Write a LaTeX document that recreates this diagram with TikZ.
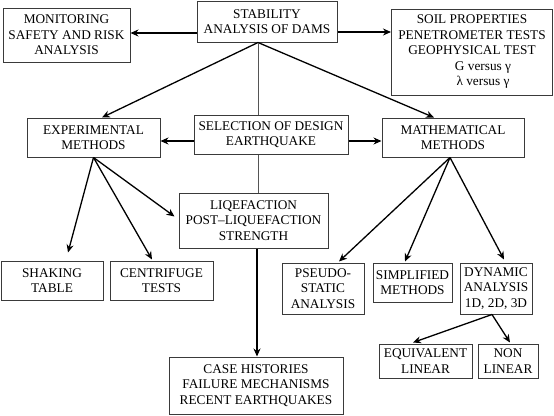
\documentclass[tikz,border=0pt]{standalone}
\usepackage{fontspec}
\setmainfont{Liberation Serif}
\newfontfamily\timesfont{Liberation Serif}
\usetikzlibrary{arrows.meta}
\definecolor{boxline}{HTML}{3A3A3A}
\definecolor{plainline}{HTML}{555555}
\tikzset{
  box/.style={draw=boxline, line width=1pt, align=center, inner sep=0pt,
    font=\timesfont\fontsize{13.3}{15.5}\selectfont},
  arr/.style={draw=black, line width=1.3pt, -{Stealth[length=8pt,width=7pt]}},
  plain/.style={draw=plainline, line width=1pt},
}
\begin{document}
\begin{tikzpicture}[x=1pt,y=-1pt]
\useasboundingbox (0,0) rectangle (554,415);
\node[box, minimum width=140pt, minimum height=41pt] (stab) at (267,21.5) {STABILITY\\ANALYSIS OF DAMS};
\node[box, minimum width=127pt, minimum height=54pt] (mon) at (66.5,35) {MONITORING\\SAFETY AND RISK\\ANALYSIS};
\node[box, minimum width=161pt, minimum height=86pt] (soil) at (472,52) {SOIL PROPERTIES\\PENETROMETER TESTS\\GEOPHYSICAL TEST\\\hspace*{22pt}G versus γ\\\hspace*{22pt}λ versus γ};
\node[box, minimum width=133pt, minimum height=39pt] (exp) at (93.5,137.5) {EXPERIMENTAL\\METHODS};
\node[box, minimum width=154pt, minimum height=39pt] (sel) at (271,134.5) {SELECTION OF DESIGN\\EARTHQUAKE};
\node[box, minimum width=142pt, minimum height=39pt] (math) at (453,137.5) {MATHEMATICAL\\METHODS};
\node[box, minimum width=149pt, minimum height=55pt] (liq) at (253.5,220.5) {LIQEFACTION\\POST–LIQUEFACTION\\STRENGTH};
\node[box, minimum width=102pt, minimum height=39pt] (shake) at (52,280.5) {SHAKING\\TABLE};
\node[box, minimum width=103pt, minimum height=39pt] (cent) at (161.5,280.5) {CENTRIFUGE\\TESTS};
\node[box, minimum width=82pt, minimum height=51pt] (pseudo) at (323,288.5) {PSEUDO-\\STATIC\\ANALYSIS};
\node[box, minimum width=79pt, minimum height=39pt] (simp) at (412.5,282.5) {SIMPLIFIED\\METHODS};
\node[box, minimum width=72pt, minimum height=51pt] (dyn) at (496,288.5) {DYNAMIC\\ANALYSIS\\1D, 2D, 3D};
\node[box, minimum width=93pt, minimum height=34pt] (equiv) at (425.5,361) {EQUIVALENT\\LINEAR};
\node[box, minimum width=60pt, minimum height=34pt] (non) at (508,361) {NON\\LINEAR};
\node[box, minimum width=174pt, minimum height=57pt] (case) at (256,385.5) {CASE HISTORIES\\FAILURE MECHANISMS\\RECENT EARTHQUAKES};
% junction points
\coordinate (sb) at ([xshift=-9pt]stab.south);
\coordinate (eb) at (exp.south);
\coordinate (mb) at ([xshift=-3pt]math.south);
\coordinate (db) at ([xshift=-4pt]dyn.south);
% connectors from the top box
\draw[arr] ([yshift=-11.5pt]stab.west) -- ([yshift=-11.5pt]stab.west -| mon.east);
\draw[arr] ([yshift=-10.5pt]stab.east) -- ([yshift=-10.5pt]stab.east -| soil.west);
\draw[arr] (sb) -- ([xshift=8.5pt]exp.north);
\draw[arr] (sb) -- ([xshift=-19pt]math.north);
\draw[plain] (sb) -- (sb |- sel.north);
% selection box
\draw[arr] ([yshift=-6.5pt]sel.west) -- ([yshift=-6.5pt]sel.west -| exp.east);
\draw[arr] ([yshift=-6.5pt]sel.east) -- ([yshift=-6.5pt]sel.east -| math.west);
\draw[plain] (sel.south -| sb) -- (liq.north -| sb);
\draw[arr] ([xshift=3.5pt]liq.south) -- ([xshift=3.5pt]liq.south |- case.north);
% experimental methods
\draw[arr] (eb) -- ([xshift=16pt,yshift=8pt]shake.north);
\draw[arr] (eb) -- ([xshift=-9.5pt,yshift=1pt]cent.north);
\draw[arr] (eb) -- ([xshift=-4pt,yshift=-24pt]liq.north west);
% mathematical methods
\draw[arr] (mb) -- ([xshift=16pt,yshift=1pt]pseudo.north);
\draw[arr] (mb) -- ([xshift=-7.5pt,yshift=1pt]simp.north);
\draw[arr] (mb) -- ([xshift=8pt,yshift=3pt]dyn.north);
% dynamic analysis
\draw[arr] (db) -- ([xshift=-12.5pt,yshift=1pt]equiv.north);
\draw[arr] (db) -- ([xshift=2pt,yshift=1pt]non.north);
\end{tikzpicture}
\end{document}
